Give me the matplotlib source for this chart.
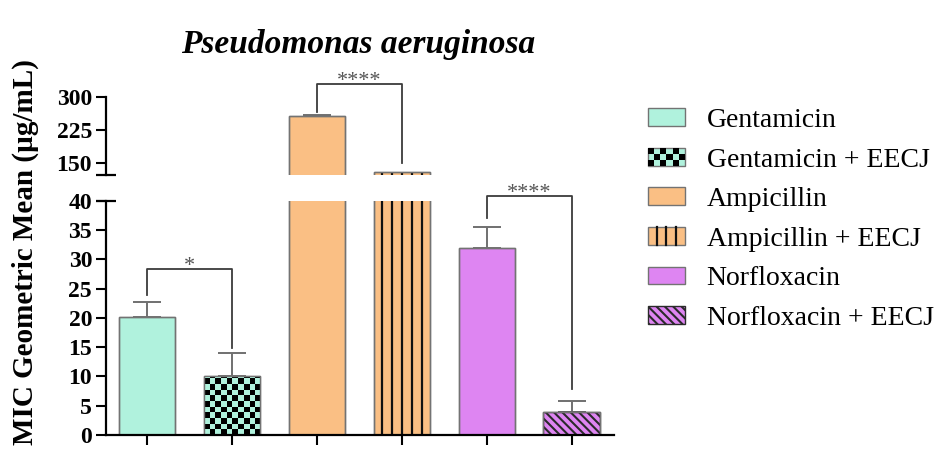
import matplotlib.pyplot as plt
import numpy as np
from matplotlib.patches import Patch, Rectangle
from matplotlib.lines import Line2D
from matplotlib.colors import ListedColormap
from matplotlib.legend_handler import HandlerBase

plt.rcParams['font.family'] = ['Liberation Serif', 'DejaVu Serif']
plt.rcParams['hatch.linewidth'] = 1.5

# MIC geometric means (ug/mL) and upper SEM
farmacos = ['Gentamicin', 'Gentamicin + EECJ', 'Ampicillin',
            'Ampicillin + EECJ', 'Norfloxacin', 'Norfloxacin + EECJ']
mic_media = [20.16, 10.08, 256, 128, 32, 4]
error_sup = [2.5, 3.9, 3, 0, 3.5, 1.8]
colores = ['#b0f2dd', '#b0f2dd', '#fabf84', '#fabf84', '#de85f2', '#de85f2']
patrones = ['', 'tablero', '', 'rayas', '', 'diagonal']

# significance brackets: (bar i, bar j, top, left leg end, right leg end, label)
comparaciones = [(0, 1, 28.3, 23.9, 14.9, '*'),
                 (2, 3, 329, 266, 150, '****'),
                 (4, 5, 40.8, 37, 7.8, '****')]

BORDE = '#737373'
RAYADO = '\\\\\\\\'
x = np.arange(len(farmacos))
ancho = 0.66


def tablero(ax, barra, color, lado_y):
    x0 = barra.get_x()
    x1 = x0 + barra.get_width()
    h = barra.get_height()
    nfil = max(1, int(round(h / lado_y)))
    celdas = np.add.outer(np.arange(nfil), np.arange(10)) % 2
    im = ax.imshow(celdas, extent=(x0, x1, 0, nfil * lado_y), origin='lower',
                   cmap=ListedColormap([color, 'black']), interpolation='nearest',
                   aspect='auto', zorder=2.1)
    im.set_clip_path(barra)


def rayas(ax, barra):
    xc = barra.get_x() + barra.get_width() / 2
    ax.vlines(xc + np.arange(-2, 3) * 0.118, 0, barra.get_height(),
              colors='#111111', lw=1.6, zorder=2.1)


class TableroHandler(HandlerBase):
    def create_artists(self, legend, orig_handle, xdescent, ydescent,
                       width, height, fontsize, trans):
        x0, y0 = -xdescent, -ydescent
        arts = [Rectangle((x0, y0), width, height, facecolor=orig_handle.get_facecolor(),
                          edgecolor=BORDE, lw=1, transform=trans)]
        w, h = width / 6, height / 3
        for r in range(3):
            for c in range(6):
                if (r + c) % 2 == 0:
                    arts.append(Rectangle((x0 + c * w, y0 + r * h), w, h,
                                          facecolor='black', lw=0, transform=trans))
        return arts


class RayasHandler(HandlerBase):
    def create_artists(self, legend, orig_handle, xdescent, ydescent,
                       width, height, fontsize, trans):
        x0, y0 = -xdescent, -ydescent
        arts = [Rectangle((x0, y0), width, height, facecolor=orig_handle.get_facecolor(),
                          edgecolor=BORDE, lw=1, transform=trans)]
        for k in (1, 2, 3):
            xi = x0 + width * k / 4
            arts.append(Line2D([xi, xi], [y0, y0 + height], color='#111111',
                               lw=1.6, transform=trans))
        return arts


fig = plt.figure(figsize=(9.43, 4.59), dpi=100)
ax_bajo = fig.add_axes([106 / 943, 24 / 459, 508 / 943, 234.3 / 459])
ax_alto = fig.add_axes([106 / 943, 284 / 459, 508 / 943, 78.3 / 459], sharex=ax_bajo)

con_error = [k for k in x if error_sup[k] > 0]
for ax in (ax_bajo, ax_alto):
    barras = ax.bar(x, mic_media, width=ancho, color=colores, edgecolor=BORDE,
                    linewidth=1.0, zorder=2)
    for b, patron, c in zip(barras, patrones, colores):
        if patron == 'tablero' and ax is ax_bajo:
            tablero(ax, b, c, 0.95)
        elif patron == 'rayas':
            rayas(ax, b)
        elif patron == 'diagonal':
            b.set_hatch(RAYADO)
            b.set_edgecolor('#2a2a2a')
    ax.bar(x, mic_media, width=ancho, fill=False, edgecolor=BORDE, linewidth=1.0, zorder=2.2)
    ax.errorbar([x[k] for k in con_error], [mic_media[k] for k in con_error],
                yerr=[[0] * len(con_error), [error_sup[k] for k in con_error]], fmt='none',
                ecolor='#707070', elinewidth=1.4, capsize=10, capthick=1.4, zorder=1.5)

ax_bajo.set_xlim(-0.48, 5.5)
ax_bajo.set_ylim(0, 40)
ax_bajo.set_yticks(range(0, 41, 5))
ax_alto.set_ylim(122, 300)
ax_alto.set_yticks([150, 225, 300])

for ax in (ax_bajo, ax_alto):
    ax.spines['top'].set_visible(False)
    ax.spines['right'].set_visible(False)
    ax.spines['left'].set_linewidth(1.6)
    ax.spines['bottom'].set_linewidth(1.6)
    ax.tick_params(axis='y', length=7, width=1.5, labelsize=17, pad=3)
    for lab in ax.get_yticklabels():
        lab.set_fontweight('bold')

ax_alto.spines['bottom'].set_visible(False)
ax_alto.tick_params(axis='x', bottom=False, labelbottom=False)
ax_bajo.set_xticks(x)
ax_bajo.set_xticklabels([])
ax_bajo.tick_params(axis='x', length=7, width=1.5)

# break marks at the ends of the two y axes
for ax, yv in ((ax_alto, 122), (ax_bajo, 40)):
    ax.plot([-0.02, 0.02], [yv, yv], transform=ax.get_yaxis_transform(),
            color='black', lw=1.6, clip_on=False, solid_capstyle='butt')

for i, j, ytop, yl, yr, txt in comparaciones:
    ax = ax_alto if yl > 40 else ax_bajo
    ax.plot([i, i, j, j], [yl, ytop, ytop, yr], color='#3c3c3c', lw=1.3,
            clip_on=False, zorder=3)
    ax.annotate(txt, xy=((i + j) / 2, ytop), xytext=(0, -1.5), textcoords='offset points',
                ha='center', va='baseline', fontsize=16, color='#555555',
                annotation_clip=False)

fig.text(358 / 943, 1 - 45 / 459, 'Pseudomonas aeruginosa', ha='center', va='center',
         fontsize=24, fontweight='bold', fontstyle='italic')
fig.text(25 / 943, 1 - 252 / 459, 'MIC Geometric Mean (µg/mL)', ha='center', va='center',
         rotation=90, fontsize=21, fontweight='bold')

manejadores = [Patch(facecolor=c, edgecolor=BORDE, label=n) for c, n in zip(colores, farmacos)]
manejadores[5].set_hatch(RAYADO)
manejadores[5].set_edgecolor('#2a2a2a')
fig.legend(handles=manejadores,
           handler_map={manejadores[1]: TableroHandler(), manejadores[3]: RayasHandler()},
           loc='upper left', bbox_to_anchor=(648 / 943, 1 - 108 / 459), frameon=False,
           fontsize=20, handlelength=1.33, handleheight=0.61, handletextpad=0.78,
           labelspacing=0.525, borderpad=0, borderaxespad=0)

fig.savefig('out.png', dpi=100)
